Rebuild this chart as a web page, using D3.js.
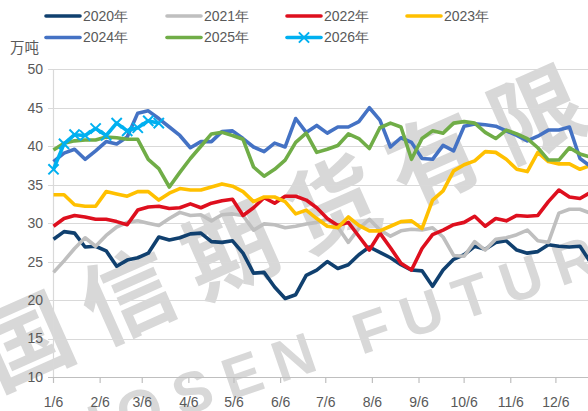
<!DOCTYPE html>
<html><head><meta charset="utf-8">
<script src="https://cdn.jsdelivr.net/npm/d3@7"></script>
<style>html,body{margin:0;padding:0;background:#fff;}svg{display:block;}</style>
</head><body><svg id="c" width="588" height="411"></svg>
<script>
const dates = ["01-06","01-13","01-20","01-27","02-03","02-10","02-17","02-24","03-03","03-10","03-17","03-24","03-31","04-07","04-14","04-21","04-28","05-05","05-12","05-19","05-26","06-02","06-09","06-16","06-23","06-30","07-07","07-14","07-21","07-28","08-04","08-11","08-18","08-25","09-01","09-08","09-15","09-22","09-29","10-06","10-13","10-20","10-27","11-03","11-10","11-17","11-24","12-01","12-08","12-15","12-22","12-29"];
const y2020 = [27.9,28.9,28.7,26.9,27.0,26.4,24.4,25.2,25.5,26.1,28.2,27.8,28.1,28.6,28.7,27.6,27.5,27.7,26.1,23.5,23.6,21.7,20.2,20.7,23.2,23.9,25.0,24.1,24.6,25.9,26.9,26.2,25.5,24.6,23.9,23.8,21.8,23.9,25.3,25.9,27.0,26.6,27.5,27.7,26.5,26.1,26.3,27.2,27.0,26.9,27.0,24.9];
const y2021 = [23.6,25.1,26.7,28.1,27.0,28.4,29.5,30.1,30.3,30.0,29.7,30.6,31.4,31.0,31.1,30.3,31.1,31.2,31.0,29.1,29.9,29.8,29.4,29.6,29.9,30.1,30.5,29.5,27.5,29.3,30.5,29.1,28.3,29.0,29.2,29.1,29.4,28.2,25.8,25.7,27.6,26.5,27.9,28.1,28.5,29.1,27.7,27.5,31.3,31.8,31.8,31.3];
const y2022 = [29.6,30.6,31.0,30.8,30.5,30.5,30.2,29.8,31.7,32.1,32.2,31.9,32.0,32.5,32.0,32.6,32.9,33.1,31.0,32.0,33.3,32.6,33.5,33.5,33.0,32.0,30.6,29.7,30.1,28.3,26.5,28.7,26.8,24.8,23.9,26.7,28.5,29.1,29.8,30.1,30.9,29.6,30.6,30.3,31.0,30.9,31.0,32.8,34.3,33.4,33.2,34.0];
const y2023 = [33.7,33.7,32.4,32.2,32.2,34.1,33.8,33.5,34.1,34.1,33.0,33.9,34.5,34.3,34.3,34.7,35.1,34.8,34.1,32.8,33.4,33.4,32.8,31.2,31.7,30.6,29.6,29.4,30.8,29.7,29.0,29.0,29.6,30.2,30.3,29.3,33.0,34.2,36.8,37.6,38.1,39.3,39.2,38.3,37.0,36.7,39.2,38.0,37.7,37.7,37.0,37.5];
const y2024 = [38.0,39.1,39.6,38.3,39.4,40.6,40.3,41.2,44.3,44.6,43.6,42.5,41.4,39.8,40.6,40.6,41.9,42.0,41.0,39.9,39.3,40.4,39.9,43.6,41.8,42.7,41.7,42.5,42.5,43.2,45.0,43.4,39.9,41.1,40.5,38.4,38.3,40.1,39.4,42.6,42.9,42.8,42.6,42.0,41.4,40.7,41.3,42.1,42.1,42.5,38.4,37.4];
const y2025 = [39.5,40.4,40.7,40.8,40.8,41.2,41.1,40.9,40.9,38.3,37.1,34.7,36.6,38.4,40.0,41.6,41.8,41.4,40.9,37.3,36.1,37.0,38.2,40.5,41.7,39.2,39.6,40.1,41.6,41.0,39.7,42.4,43.0,42.5,38.3,41.0,42.0,41.7,43.0,43.2,43.0,41.8,41.0,42.1,41.6,41.0,39.8,38.2,38.2,39.8,39.0,38.6];
const y2026 = [37.0,40.3,41.5,41.4,42.3,41.4,43.0,42.0,42.4,43.3,43.0];
const seriesNames = ["2020年","2021年","2022年","2023年","2024年","2025年","2026年"];
const seriesColors = ["#10406f","#bfbfbf","#de0f1e","#ffc000","#4472c4","#70ad47","#00b0f0"];
const seriesValues = [y2020,y2021,y2022,y2023,y2024,y2025,y2026];
const xTickLabels = ["1/6","2/6","3/6","4/6","5/6","6/6","7/6","8/6","9/6","10/6","11/6","12/6"];
const yTicks = [10,15,20,25,30,35,40,45,50];
const unitLabel = "万吨";
const watermarkCn = "国信期货有限公司";
const watermarkEn = "GUOSEN FUTURES";

const svg = d3.select("#c");
const YEAR = 2021;
const parse = s => { const [m,d] = s.split("-").map(Number); return new Date(Date.UTC(YEAR, m-1, d)); };
const x = d3.scaleUtc().domain([new Date(Date.UTC(YEAR,0,6)), new Date(Date.UTC(YEAR,11,31))]).range([53.5, 593.5]);
const y = d3.scaleLinear().domain([10,50]).range([377, 69.3]);
const font = "'Liberation Sans', Arial, sans-serif";
const txt = "#595959";

// watermark
const wm = svg.append("g").attr("opacity",0.3).attr("fill","#7f7f7f").style("font-weight","bold");
wm.append("text").attr("transform","translate(-3,391) rotate(-24)").attr("font-size",92).attr("letter-spacing",20)
  .style("font-family","'Noto Sans CJK SC', sans-serif").text(watermarkCn);
wm.append("text").attr("transform","translate(16,474) rotate(-19)").attr("font-size",58).attr("letter-spacing",14)
  .style("font-family",font).text(watermarkEn);

// grid
svg.append("g").selectAll("line").data(yTicks).join("line")
  .attr("x1",48).attr("x2",588).attr("y1",d=>Math.round(y(d))+0.5).attr("y2",d=>Math.round(y(d))+0.5)
  .attr("stroke",d=>d===10?"#bfbfbf":"#d9d9d9").attr("stroke-width",1.2);
svg.append("line").attr("x1",53.5).attr("x2",53.5).attr("y1",y(50)).attr("y2",y(10)).attr("stroke","#d9d9d9").attr("stroke-width",1.2);
svg.append("g").selectAll("text").data(yTicks).join("text")
  .attr("x",43).attr("y",d=>y(d)).attr("dy","0.35em").attr("text-anchor","end")
  .attr("font-size",14).attr("fill",txt).style("font-family",font).text(d=>d);

// x axis ticks
const tickDates = xTickLabels.map((l,i)=>new Date(Date.UTC(YEAR,i,6)));
svg.append("g").selectAll("line").data(tickDates).join("line")
  .attr("x1",d=>x(d)).attr("x2",d=>x(d)).attr("y1",377).attr("y2",383).attr("stroke","#bfbfbf").attr("stroke-width",1.2);
svg.append("g").selectAll("text").data(xTickLabels).join("text")
  .attr("x",(d,i)=>x(tickDates[i])).attr("y",402).attr("dy","0.35em").attr("text-anchor","middle")
  .attr("font-size",14).attr("fill",txt).style("font-family",font).text(d=>d);

// lines
const line = d3.line().x(d=>x(d[0])).y(d=>y(d[1]));
seriesValues.forEach((vals,si)=>{
  const pts = vals.map((v,i)=>[parse(dates[i]),v]);
  svg.append("path").attr("d",line(pts)).attr("fill","none").attr("stroke",seriesColors[si])
    .attr("stroke-width",3.6).attr("stroke-linejoin","round");
  if (si===6) {
    svg.append("g").selectAll("path").data(pts).join("path")
      .attr("d",d3.symbol(d3.symbolX,70)()).attr("transform",d=>`translate(${x(d[0])},${y(d[1])})`)
      .attr("stroke",seriesColors[si]).attr("stroke-width",2).attr("fill","none");
  }
});

// legend
const legPos = [[46,16],[167,16],[287,16],[407,16],[46,37.5],[167,37.5],[287,37.5]];
seriesNames.forEach((n,i)=>{
  const [lx,ly] = legPos[i];
  svg.append("line").attr("x1",lx).attr("x2",lx+34).attr("y1",ly).attr("y2",ly).attr("stroke",seriesColors[i]).attr("stroke-width",3.6).attr("stroke-linecap","round");
  if (i===6) svg.append("path").attr("d",d3.symbol(d3.symbolX,70)()).attr("transform",`translate(${lx+17},${ly})`).attr("stroke",seriesColors[i]).attr("stroke-width",2);
  svg.append("text").attr("x",lx+37).attr("y",ly).attr("dy","0.35em").attr("font-size",14).attr("fill",txt).style("font-family",font).text(n);
});
svg.append("text").attr("x",10).attr("y",48).attr("dy","0.35em").attr("font-size",14.5).attr("fill",txt).style("font-family","'Noto Sans CJK SC', sans-serif").text(unitLabel);
</script></body></html>
